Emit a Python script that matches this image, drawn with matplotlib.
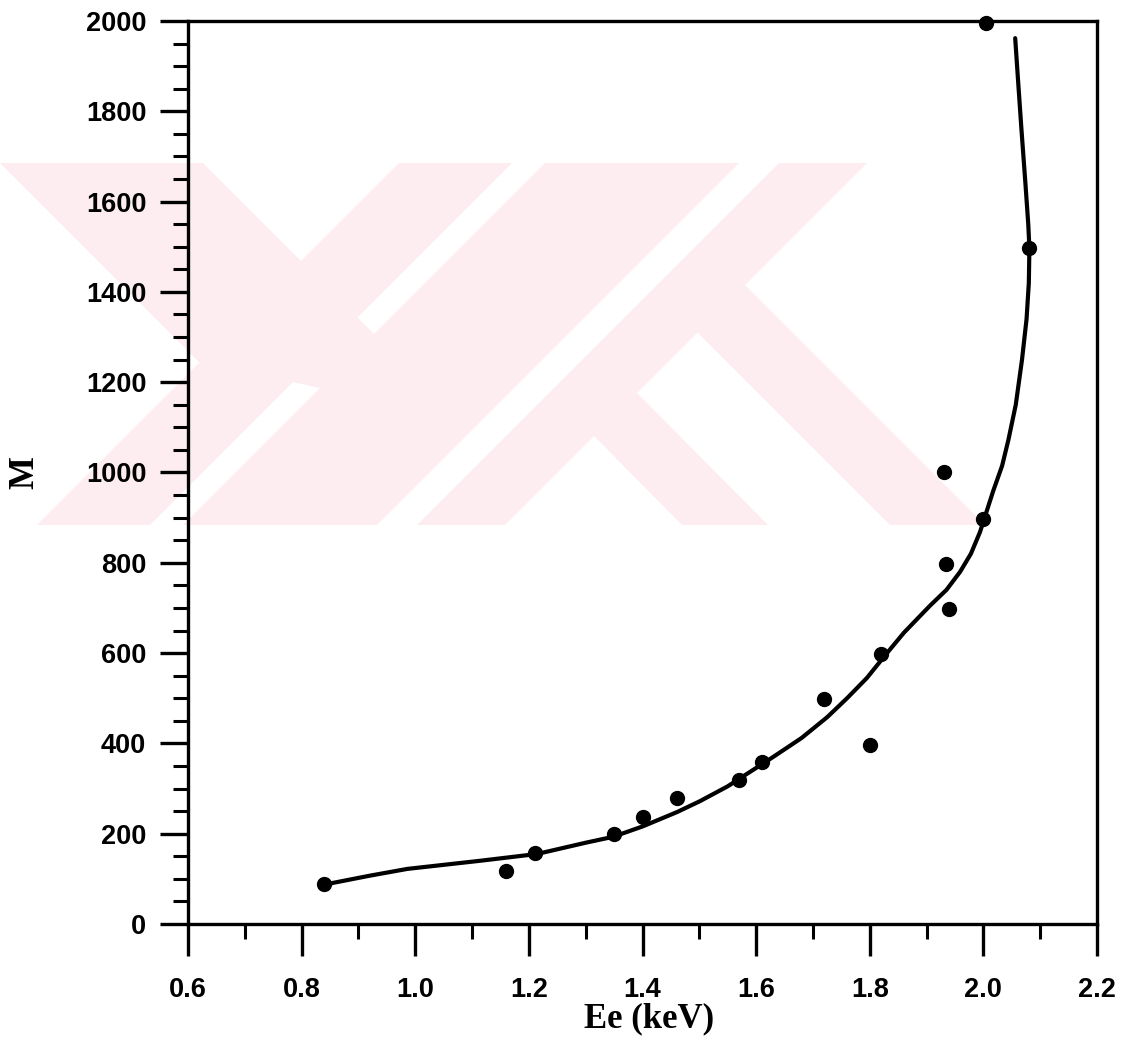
import matplotlib
matplotlib.use("Agg")
import matplotlib.pyplot as plt
from matplotlib.patches import Polygon
from matplotlib.ticker import MultipleLocator, FormatStrFormatter

# measured points
ee_kev = [0.84, 1.16, 1.21, 1.35, 1.40, 1.46, 1.57, 1.61, 1.72, 1.80, 1.82,
          1.93, 1.935, 1.94, 2.00, 2.005, 2.08]
m_vals = [88, 117, 158, 200, 238, 278, 318, 358, 498, 396, 599,
          1000, 797, 697, 896, 1996, 1497]

# hand drawn fit line
fit_ee = [0.84, 0.855, 0.92, 0.986, 1.05, 1.114, 1.214, 1.30, 1.348, 1.40,
          1.461, 1.501, 1.55, 1.630, 1.68, 1.725, 1.76, 1.795, 1.827, 1.86,
          1.906, 1.935, 1.959, 1.978, 1.994, 2.017, 2.033, 2.044, 2.057, 2.068,
          2.076, 2.080, 2.081, 2.079, 2.074, 2.067, 2.061, 2.056]
fit_m = [86, 91, 107, 122, 131, 140, 155, 180, 193, 216,
         248, 272, 305, 370, 412, 458, 500, 545, 595, 645,
         705, 740, 780, 820, 868, 958, 1015, 1072, 1150, 1250,
         1340, 1420, 1497, 1550, 1640, 1760, 1869, 1962]

x_ticks = [0.6, 0.8, 1.0, 1.2, 1.4, 1.6, 1.8, 2.0, 2.2]
y_ticks = [0, 200, 400, 600, 800, 1000, 1200, 1400, 1600, 1800, 2000]

# pale watermark behind the plot, in pixel coordinates of the page
wm_color = '#fdedf0'
wm_shapes = [
    [(0, 163), (203, 163), (374, 334), (320, 388), (199, 362)],
    [(399, 163), (512, 163), (150, 525), (37, 525)],
    [(545, 163), (739, 163), (377, 525), (183, 525)],
    [(779, 163), (867, 163), (505, 525), (417, 525)],
    [(637, 393), (594, 436), (682, 525), (768, 525)],
    [(745, 285), (697, 332), (890, 525), (985, 525)],
]

fig = plt.figure(figsize=(11.3, 10.45), dpi=100)
bg = fig.add_axes([0, 0, 1, 1], zorder=0)
bg.set_xlim(0, 1130)
bg.set_ylim(1045, 0)
bg.axis('off')
for pts in wm_shapes:
    bg.add_patch(Polygon(pts, closed=True, facecolor=wm_color, edgecolor='none'))

ax = fig.add_axes([0.1664, 0.1158, 0.8044, 0.8641], zorder=1)
ax.set_facecolor('none')

ax.plot(fit_ee, fit_m, color='black', lw=3, solid_capstyle='round', zorder=2)
ax.plot(ee_kev, m_vals, 'o', color='black', ms=10, clip_on=False, zorder=3)

ax.set_xlim(0.6, 2.2)
ax.set_ylim(0, 2000)
ax.set_xticks(x_ticks)
ax.set_yticks(y_ticks)
ax.xaxis.set_minor_locator(MultipleLocator(0.1))
ax.yaxis.set_minor_locator(MultipleLocator(50))
ax.xaxis.set_major_formatter(FormatStrFormatter('%.1f'))

for s in ax.spines.values():
    s.set_linewidth(2.4)

ax.tick_params(axis='x', which='major', direction='out', length=23, width=2.4, pad=15)
ax.tick_params(axis='y', which='major', direction='out', length=20, width=2.4, pad=10)
ax.tick_params(axis='both', which='minor', direction='out', length=11, width=2.2)

for lab in ax.get_xticklabels() + ax.get_yticklabels():
    lab.set_fontfamily('Liberation Sans')
    lab.set_fontweight('bold')
    lab.set_fontsize(19.5)

ax.set_xlabel('Ee (keV)', fontsize=25, fontweight='bold', family='Liberation Serif', va='center')
ax.set_ylabel('M', fontsize=25, fontweight='bold', family='Liberation Serif', va='center')
ax.xaxis.set_label_coords(0.507, -0.105)
ax.yaxis.set_label_coords(-0.179, 0.5)

fig.savefig('out.png', dpi=100)
